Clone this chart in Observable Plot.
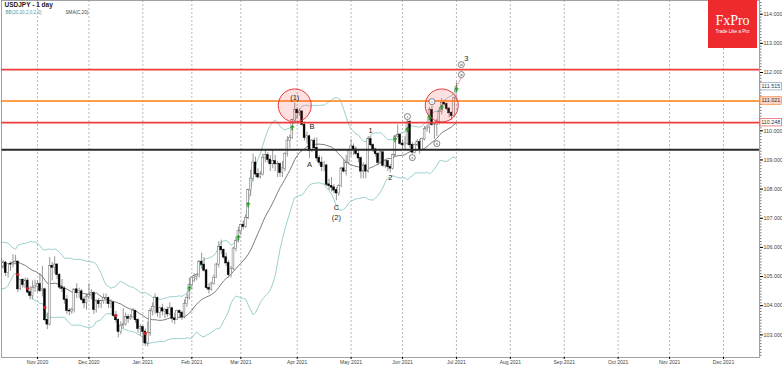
<!DOCTYPE html>
<html><head><meta charset="utf-8">
<script src="https://cdn.jsdelivr.net/npm/d3@7"></script>
<script src="https://cdn.jsdelivr.net/npm/@observablehq/plot@0.6"></script>
<style>
body{margin:0;background:#fff;}
#wrap{position:relative;width:782px;height:366px;overflow:hidden;font-family:"Liberation Sans",Arial,sans-serif;}
#logo{position:absolute;left:708px;top:0;width:49px;height:48px;background:#ee2a2e;color:#fff;text-align:center;}
#logo .b{font-family:"Liberation Serif","DejaVu Serif",serif;font-size:14px;position:absolute;left:0;right:0;top:14px;line-height:14px;}
#logo .s{font-size:4.6px;position:absolute;left:0;right:0;top:29px;line-height:5px;}
</style></head>
<body><div id="wrap"><div id="chart"></div><div id="logo"><div class="b">FxPro</div><div class="s">Trade Like a Pro</div></div></div>
<script>
// ---- calendar (trading days, chart skips weekends and Dec 25 / Jan 1) ----
const startDate = "2020-10-12";
const endDate = "2022-01-01";
const holidays = ["2020-12-25", "2021-01-01"];

// closes before the first visible bar (for the 20-bar indicators)
const warmupClose = [105.70,105.45,104.95,104.75,104.55,104.65,104.95,105.40,105.40,105.60,
  105.50,105.65,105.55,105.55,105.30,105.70,105.70,105.95,106.00,105.60];

// ---- daily OHLC, 12 Oct 2020 .. 1 Jul 2021 ----
const open = [
  105.60,105.31,105.47,105.12,105.42,105.41,105.43,105.50,104.56,104.88,104.71,104.85,104.45,104.33,104.60,
  104.65,104.73,104.50,104.55,103.50,103.35,105.35,105.30,105.40,105.05,104.62,104.58,104.20,103.82,103.80,103.85,104.55,104.43,104.48,104.20,104.08,
  104.30,104.35,104.42,103.85,104.15,104.05,104.15,104.25,104.25,104.05,104.10,103.65,103.50,103.10,103.30,103.35,103.60,103.55,103.60,103.80,103.50,103.20,
  103.25,103.10,102.70,103.05,103.80,103.95,104.25,103.75,103.90,103.80,103.85,103.70,103.90,103.55,103.50,103.80,103.75,103.60,104.05,104.25,
  104.70,104.95,105.00,105.05,105.50,105.40,105.20,104.60,104.55,104.75,104.95,105.40,106.00,105.90,105.65,105.45,105.05,105.25,105.95,106.20,
  106.55,106.75,106.70,107.00,107.95,108.35,108.90,108.50,108.40,108.50,109.05,109.15,109.00,108.85,108.95,108.85,108.85,108.55,108.70,109.20,109.65,109.75,110.35,
  110.70,110.60,110.65,110.20,109.75,109.80,109.30,109.65,109.40,109.05,108.90,108.75,108.80,108.15,108.10,108.05,107.95,107.85,108.10,108.70,108.60,108.90,
  109.30,109.45,109.35,109.20,109.05,108.60,108.80,108.60,109.70,109.50,109.35,109.20,108.90,109.25,108.80,108.95,108.75,108.70,109.15,109.80,109.85,
  109.55,109.50,109.55,110.30,109.50,109.25,109.50,109.60,109.35,109.70,110.05,110.10,110.70,110.20,110.20,110.30,110.65,110.95,110.90,110.75,110.60,110.50,
  111.10];
const high = [
  105.75,105.55,105.52,105.42,105.50,105.75,105.73,105.55,104.90,104.92,104.95,104.95,104.66,104.85,104.88,
  104.85,105.10,105.35,104.60,103.75,105.65,105.48,105.68,105.45,105.10,104.90,104.65,104.35,103.90,103.92,104.55,104.75,104.60,104.55,104.30,104.40,
  104.75,104.55,104.48,104.20,104.25,104.20,104.40,104.40,104.30,104.20,104.15,103.80,103.55,103.45,103.90,103.75,103.70,103.70,103.90,103.85,103.55,103.35,
  103.30,103.20,103.45,103.90,104.10,104.40,104.30,103.95,104.05,103.90,103.95,104.10,103.95,103.75,103.85,103.85,103.80,104.20,104.40,104.95,
  105.00,105.10,105.10,105.55,105.80,105.65,105.25,104.75,104.80,105.05,105.45,106.20,106.25,105.95,105.80,105.55,105.35,106.00,106.35,106.70,
  106.80,106.90,107.10,108.00,108.65,109.20,109.10,108.70,108.60,109.20,109.35,109.25,109.15,109.35,109.15,108.95,108.90,108.95,109.25,109.80,109.85,110.40,110.95,
  110.80,110.75,110.70,110.30,109.95,109.85,109.70,109.75,109.75,109.15,109.10,108.95,108.85,108.35,108.40,108.15,108.05,108.15,108.75,109.00,109.15,109.35,
  109.70,109.55,109.45,109.35,109.10,108.90,108.85,109.80,109.80,109.55,109.40,109.25,109.35,109.30,109.00,108.95,108.85,109.20,109.85,110.20,109.90,
  109.70,109.80,110.35,110.35,109.60,109.55,109.70,109.70,109.75,110.15,110.20,110.80,110.85,110.25,110.40,110.80,111.10,111.05,110.95,110.80,110.65,111.15,
  111.65];
const low = [
  105.30,105.25,105.00,104.95,105.18,105.30,105.40,104.45,104.52,104.60,104.60,104.40,104.20,104.20,104.45,
  104.45,104.45,104.30,103.45,103.18,103.30,104.85,105.10,104.90,104.55,104.45,104.05,103.70,103.65,103.70,103.75,104.25,104.25,104.15,103.90,103.85,
  104.20,104.20,103.70,103.75,103.90,103.90,104.05,104.05,103.90,103.90,103.60,103.40,102.90,103.00,103.20,103.30,103.40,103.50,103.55,103.40,103.05,102.95,
  102.70,102.60,102.58,102.95,103.65,103.70,103.60,103.55,103.65,103.55,103.60,103.65,103.40,103.35,103.50,103.55,103.50,103.55,103.95,104.20,
  104.55,104.80,104.85,104.95,105.25,105.15,104.55,104.40,104.50,104.70,104.95,105.30,105.75,105.60,105.35,104.95,104.95,105.20,105.85,106.15,
  106.40,106.60,106.65,106.95,107.75,108.25,108.40,108.35,108.35,108.45,108.90,108.90,108.60,108.70,108.60,108.40,108.40,108.40,108.60,109.10,109.40,109.70,110.25,
  110.40,110.50,110.15,109.65,109.55,109.05,109.25,109.30,108.95,108.80,108.60,108.60,108.10,107.95,107.90,107.85,107.60,107.75,108.05,108.55,108.45,108.85,
  109.10,109.15,109.15,108.90,108.35,108.35,108.35,108.55,109.45,109.25,109.10,108.80,108.85,108.75,108.70,108.60,108.55,108.65,109.10,109.75,109.50,
  109.35,109.35,109.50,109.40,109.20,109.20,109.45,109.20,109.30,109.65,109.95,109.90,110.15,109.70,109.80,110.20,110.55,110.85,110.70,110.45,110.35,110.45,
  111.05];
const close = [
  105.31,105.47,105.12,105.42,105.41,105.43,105.50,104.56,104.88,104.71,104.85,104.45,104.33,104.60,104.65,
  104.73,104.50,104.55,103.50,103.35,105.35,105.30,105.40,105.05,104.62,104.58,104.20,103.82,103.80,103.85,104.55,104.43,104.48,104.20,104.08,104.30,
  104.35,104.42,103.85,104.15,104.05,104.15,104.25,104.25,104.05,104.10,103.65,103.50,103.10,103.30,103.35,103.60,103.55,103.60,103.80,103.50,103.20,103.25,
  103.10,102.70,103.05,103.80,103.95,104.25,103.75,103.90,103.80,103.85,103.70,103.90,103.55,103.50,103.80,103.75,103.60,104.05,104.25,104.70,
  104.95,105.00,105.05,105.50,105.40,105.20,104.60,104.55,104.75,104.95,105.40,106.00,105.90,105.65,105.45,105.05,105.25,105.95,106.20,106.55,
  106.75,106.70,107.00,107.95,108.35,108.90,108.50,108.40,108.50,109.05,109.15,109.00,108.85,108.95,108.85,108.85,108.55,108.70,109.20,109.65,109.75,110.35,110.70,
  110.60,110.65,110.20,109.75,109.80,109.30,109.65,109.40,109.05,108.90,108.75,108.80,108.15,108.10,108.05,107.95,107.85,108.10,108.70,108.60,108.90,109.30,
  109.45,109.35,109.20,109.05,108.60,108.80,108.60,109.70,109.50,109.35,109.20,108.90,109.25,108.80,108.95,108.75,108.70,109.15,109.80,109.85,109.55,
  109.50,109.55,110.30,109.50,109.25,109.50,109.60,109.35,109.70,110.05,110.10,110.70,110.20,110.20,110.30,110.65,110.95,110.90,110.75,110.60,110.50,111.10,
  111.50];

// ---- axis labels ----
const monthStarts = ["2020-11-01","2020-12-01","2021-01-01","2021-02-01","2021-03-01","2021-04-01","2021-05-01",
  "2021-06-01","2021-07-01","2021-08-01","2021-09-01","2021-10-01","2021-11-01","2021-12-01"];
const monthLabels = ["Nov 2020","Dec 2020","Jan 2021","Feb 2021","Mar 2021","Apr 2021","May 2021",
  "Jun 2021","Jul 2021","Aug 2021","Sep 2021","Oct 2021","Nov 2021","Dec 2021"];
const priceTicks = [103,104,105,106,107,108,109,110,112,113,114];

// ---- horizontal levels ----
const levelTopRed = 112.10;
const levelOrange = 111.021;
const levelLowRed = 110.28;
const levelBlack = 109.35;
const boxValues = [111.515, 111.021, 110.28];
const boxLabels = ["111.515", "111.021", "110.248"];

// ---- annotations ----
const waveText  = ["(1)","B","A","C","(2)","1","2","3"];
const waveDate  = ["2021-03-31","2021-04-09","2021-04-08","2021-04-23","2021-04-23","2021-05-13","2021-05-25","2021-07-07"];
const waveValue = [111.14,110.15,108.84,107.37,107.03,110.01,108.40,112.48];
const subText  = ["i","ii","i","ii","iii","iii"];
const subDate  = ["2021-06-03","2021-06-07","2021-06-17","2021-06-21","2021-07-05","2021-07-05"];
const subValue = [110.49,109.08,111.00,109.56,112.27,111.93];
const ringDate  = ["2021-03-31","2021-06-23"];
const ringValue = [110.87,110.87];
const upDate  = ["2021-01-29","2021-02-26","2021-03-04","2021-03-30","2021-05-27","2021-06-03","2021-06-16","2021-06-23","2021-07-01"];
const upValue = [104.59,106.34,107.47,110.11,109.70,110.04,110.46,110.80,111.42];
const downDate  = ["2020-10-21","2020-10-27","2020-11-05","2020-12-16","2021-01-05"];
const downValue = [105.07,104.59,103.94,103.66,103.05];
const pathDate  = ["2021-07-01","2021-07-05"];
const pathValue = [111.52,111.82];

// ---- build ----
const fmt = d3.utcFormat("%Y-%m-%d");
const calendar = d3.utcDays(new Date(startDate), new Date(endDate))
  .filter(d => d.getUTCDay() % 6 !== 0 && !holidays.includes(fmt(d))).map(fmt);
const idx = new Map(calendar.map((d, i) => [d, i]));
const monthIdx = monthStarts.map(m => calendar.findIndex(d => d >= m));
const monthLabelOf = new Map(monthIdx.map((v, i) => [v, monthLabels[i]]));

const bars = close.map((c, i) => ({i, o: open[i], h: high[i], l: low[i], c}));
const allClose = warmupClose.concat(close);
const W = warmupClose.length;
const bands = close.map((c, i) => {
  const w = allClose.slice(i + W - 19, i + W + 1);
  const m = d3.mean(w);
  const sd = Math.sqrt(d3.mean(w, v => (v - m) ** 2));
  return {i, mid: m, up: m + 2 * sd, lo: m - 2 * sd};
});
const waves = waveText.map((t, k) => ({x: idx.get(waveDate[k]), y: waveValue[k], t}));
const subs = subText.map((t, k) => ({x: idx.get(subDate[k]), y: subValue[k], t}));
const rings = ringDate.map((d, k) => ({x: idx.get(d), y: ringValue[k]}));
const ups = upDate.map((d, k) => ({x: idx.get(d), y: upValue[k]}));
const downs = downDate.map((d, k) => ({x: idx.get(d), y: downValue[k]}));
const path = [{x1: idx.get(pathDate[0]), y1: pathValue[0], x2: idx.get(pathDate[1]), y2: pathValue[1]}];
const minorTicks = d3.range(1023, 1145).map(v => v / 10);

const upArrow = {draw(ctx, size) {
  const r = Math.sqrt(size / Math.PI);
  ctx.moveTo(0, -r * 1.2); ctx.lineTo(r, 0); ctx.lineTo(r * 0.35, 0); ctx.lineTo(r * 0.35, r * 1.1);
  ctx.lineTo(-r * 0.35, r * 1.1); ctx.lineTo(-r * 0.35, 0); ctx.lineTo(-r, 0); ctx.closePath();
}};

const FONT = '"Liberation Sans", Arial, sans-serif';
const chart = Plot.plot({
  width: 782, height: 366,
  marginLeft: 1, marginRight: 23, marginTop: 0, marginBottom: 9,
  x: {type: "linear", domain: [0.306, 309.7]},
  y: {domain: [102.223, 114.47]},
  style: {fontFamily: FONT, background: "#fff", overflow: "visible"},
  marks: [
    Plot.ruleX(monthIdx, {x: d => d, stroke: "#9a9a9a", strokeWidth: 0.7, strokeDasharray: "2,2"}),
    Plot.line(bands, {x: "i", y: "up", stroke: "#8ecaca", strokeWidth: 0.9, clip: true}),
    Plot.line(bands, {x: "i", y: "lo", stroke: "#8ecaca", strokeWidth: 0.9, clip: true}),
    Plot.line(bands, {x: "i", y: "mid", stroke: "#5c5c5c", strokeWidth: 0.8, clip: true}),
    Plot.ruleX(bars, {x: "i", y1: "l", y2: "h", stroke: "#6a6a6a", strokeWidth: 0.7, clip: true}),
    Plot.rect(bars, {x1: d => d.i - 0.37, x2: d => d.i + 0.37,
      y1: d => Math.min(d.o, d.c), y2: d => Math.max(d.o, d.c) + 0.012,
      fill: d => d.c >= d.o ? "#ffffff" : "#000000", stroke: d => d.c >= d.o ? "#6a6a6a" : "#000000",
      strokeWidth: 0.5, clip: true}),
    Plot.ruleY([levelTopRed], {stroke: "#f03c3c", strokeWidth: 1.6}),
    Plot.ruleY([levelOrange], {stroke: "#ff7f0e", strokeWidth: 1.6}),
    Plot.ruleY([levelLowRed], {stroke: "#f03c3c", strokeWidth: 1.6}),
    Plot.ruleY([levelBlack], {stroke: "#2a2a2a", strokeWidth: 1.8}),
    Plot.dot(rings, {x: "x", y: "y", r: 16.5, fill: "#ff4040", fillOpacity: 0.16, stroke: "#e83a3a", strokeWidth: 1}),
    Plot.dot(ups, {x: "x", y: "y", r: 2.4, symbol: upArrow, fill: "#2a9a2a", stroke: "none"}),
    Plot.dot(downs, {x: "x", y: "y", r: 1.6, fill: "#d42222", stroke: "none"}),
    Plot.link(path, {x1: "x1", y1: "y1", x2: "x2", y2: "y2", stroke: "#e03030", strokeWidth: 0.9, strokeDasharray: "1.5,1.2"}),
    Plot.text(waves, {x: "x", y: "y", text: "t", fontSize: 7.5, fill: "#222"}),
    Plot.dot(subs, {x: "x", y: "y", r: 3, fill: "#fff", stroke: "#333", strokeWidth: 0.6}),
    Plot.text(subs, {x: "x", y: "y", text: "t", fontSize: 3.6, fill: "#222"}),
    Plot.text(["USDJPY - 1 day"], {frameAnchor: "top-left", dx: 3, dy: 2, text: d => d, fontSize: 6.5, fontWeight: "bold", fill: "#222"}),
    Plot.text(["BB(20,20,2,0,2,0)"], {frameAnchor: "top-left", dx: 4, dy: 10.5, text: d => d, fontSize: 4.6, fill: "#4d9a9a"}),
    Plot.text(["SMA(C,20)"], {frameAnchor: "top-left", dx: 64, dy: 10.5, text: d => d, fontSize: 4.6, fill: "#444"}),
    Plot.frame({stroke: "#8a8a8a", strokeWidth: 0.8}),
    Plot.axisY(minorTicks, {anchor: "right", tickSize: 1.5, tickFormat: () => "", label: null, stroke: "#777"}),
    Plot.axisY(priceTicks, {anchor: "right", tickSize: 3, tickPadding: 1, tickFormat: d => d.toFixed(3), fontSize: 5.4, fill: "#444", label: null}),
    Plot.axisX(monthIdx, {anchor: "bottom", tickSize: 2, tickPadding: 1, tickFormat: d => monthLabelOf.get(d), fontSize: 5, fill: "#444", label: null})
  ]
});

// price boxes on the right axis
const ys = chart.scale("y");
const svg = d3.select(chart);
const boxFill = ["#ffffff", "#fbd4c4", "#ffffff"];
const boxStroke = ["#6f8fb0", "#f07d2a", "#e03a3a"];
boxValues.forEach((v, k) => {
  const yy = ys.apply(v);
  svg.append("rect").attr("x", 760).attr("y", yy - 3.8).attr("width", 21.5).attr("height", 7.6)
    .attr("fill", boxFill[k]).attr("stroke", boxStroke[k]).attr("stroke-width", 0.6);
  svg.append("text").attr("x", 770.8).attr("y", yy).attr("dy", "0.35em").attr("text-anchor", "middle")
    .attr("font-size", 5.4).attr("font-family", FONT).attr("fill", "#333").text(boxLabels[k]);
});
document.getElementById("chart").appendChild(chart);
</script>
</body></html>
